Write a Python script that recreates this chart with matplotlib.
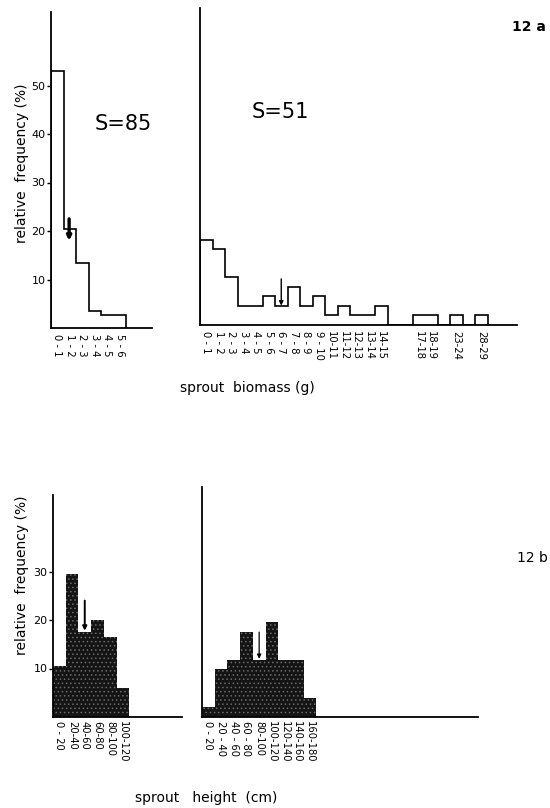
import numpy as np
import matplotlib.pyplot as plt

# sprout biomass, S=85 (left) and S=51 (right), relative frequency in %
bio85_labels = ['0 - 1', '1 - 2', '2 - 3', '3 - 4', '4 - 5', '5 - 6']
bio85_freq = [52.9, 20.5, 13.4, 3.6, 2.6, 2.6]
bio85_mean = 1.45

bio51_labels = ['0 - 1', '1 - 2', '2 - 3', '3 - 4', '4 - 5', '5 - 6', '6 - 7', '7 - 8',
                '8 - 9', '9 - 10', '10-11', '11-12', '12-13', '13-14', '14-15',
                '', '', '17-18', '18-19', '', '23-24', '', '28-29']
bio51_freq = [17.6, 15.7, 9.8, 3.9, 3.9, 5.9, 3.9, 7.8, 3.9, 5.9, 2.0, 3.9, 2.0, 2.0, 3.9,
              0, 0, 2.0, 2.0, 0, 2.0, 0, 2.0]
bio51_mean = 6.5

# sprout height (cm)
h85_labels = ['0 - 20', '20-40', '40-60', '60-80', '80-100', '100-120']
h85_freq = [10.6, 29.4, 17.6, 20.0, 16.5, 5.9]
h85_mean = 50

h51_labels = ['0 - 20', '20 - 40', '40 - 60', '60 - 80', '80-100', '100-120',
              '120-140', '140-160', '160-180']
h51_freq = [2.0, 9.8, 11.8, 17.6, 11.8, 19.6, 11.8, 11.8, 3.9]
h51_mean = 90

W, H = 550, 808
plt.rcParams['font.family'] = 'DejaVu Sans'
plt.rcParams['hatch.color'] = '#6a6a6a'
plt.rcParams['hatch.linewidth'] = 0.6
fig = plt.figure(figsize=(W / 100, H / 100), dpi=100)


def px_axes(x0, x1, ytop, ybase):
    ax = fig.add_axes([x0 / W, 1 - ybase / H, (x1 - x0) / W, (ybase - ytop) / H])
    for s in ['top', 'right']:
        ax.spines[s].set_visible(False)
    ax.spines['left'].set_linewidth(1.3)
    ax.spines['bottom'].set_linewidth(1.3)
    ax.patch.set_alpha(0)
    return ax


def arrow(ax, x, tip, top, lw=1.0, scale=7):
    ax.annotate('', xy=(x, tip), xytext=(x, top),
                arrowprops=dict(arrowstyle='-|>', color='k', lw=lw, mutation_scale=scale,
                                shrinkA=0, shrinkB=0))


ppu = 4.85  # pixels per % unit

# ---- 12a left
ax1 = px_axes(51, 152, 12, 328)
edges = np.arange(len(bio85_freq) + 1)
ax1.stairs(bio85_freq, edges, baseline=0, color='k', lw=1.2)
ax1.set_xlim(0, 101 / 12.5)
ax1.set_ylim(0, 316 / ppu)
ax1.set_yticks([10, 20, 30, 40, 50])
ax1.tick_params(axis='y', direction='out', length=3, width=1, labelsize=8, pad=1)
ax1.set_xticks(edges[:-1] + 0.5, bio85_labels, rotation=-90, fontsize=7.2)
ax1.tick_params(axis='x', length=0, pad=4)
arrow(ax1, bio85_mean, 18.0, 22.5, lw=2.4, scale=6)
ax1.text(3.5, 42, 'S=85', fontsize=15, ha='left', va='center')

# ---- 12a right
ax2 = px_axes(200, 517, 8, 325)
edges2 = np.arange(len(bio51_freq) + 1)
ax2.stairs(bio51_freq, edges2, baseline=0, color='k', lw=1.2)
ax2.set_xlim(0, 317 / 12.5)
ax2.set_ylim(0, 317 / ppu)
ax2.set_yticks([])
ax2.set_xticks(edges2[:-1] + 0.5, bio51_labels, rotation=-90, fontsize=7.2)
ax2.tick_params(axis='x', length=0, pad=4)
arrow(ax2, bio51_mean, 4.0, 9.5, lw=1.0, scale=6)
ax2.text(4.1, 44, 'S=51', fontsize=15, ha='left', va='center')

# ---- 12b left
ax3 = px_axes(53, 182, 495, 717)
e3 = np.arange(len(h85_freq) + 1) * 20
ax3.bar(e3[:-1], h85_freq, width=20, align='edge', color='#141414', hatch='....', lw=0)
ax3.set_xlim(0, 129 / 12.7 * 20)
ax3.set_ylim(0, 222 / ppu)
ax3.set_yticks([10, 20, 30])
ax3.tick_params(axis='y', direction='out', length=3, width=1, labelsize=8, pad=1)
ax3.set_xticks(e3[:-1] + 10, h85_labels, rotation=-90, fontsize=7.2)
ax3.tick_params(axis='x', length=0, pad=3)
arrow(ax3, h85_mean, 17.8, 24, lw=1.4, scale=6)

# ---- 12b right
ax4 = px_axes(202, 478, 487, 717)
e4 = np.arange(len(h51_freq) + 1) * 20
ax4.bar(e4[:-1], h51_freq, width=20, align='edge', color='#141414', hatch='....', lw=0)
ax4.set_xlim(0, 276 / 12.7 * 20)
ax4.set_ylim(0, 230 / ppu)
ax4.set_yticks([])
ax4.set_xticks(e4[:-1] + 10, h51_labels, rotation=-90, fontsize=7.2)
ax4.tick_params(axis='x', length=0, pad=3)
arrow(ax4, h51_mean, 12.0, 17.5, lw=0.9, scale=6)

# ---- labels
fig.text(22 / W, 1 - 163 / H, 'relative  frequency (%)', rotation=90, fontsize=10,
         ha='center', va='center')
fig.text(22 / W, 1 - 575 / H, 'relative  frequency (%)', rotation=90, fontsize=10,
         ha='center', va='center')
fig.text(247 / W, 1 - 388 / H, 'sprout  biomass (g)', fontsize=10, ha='center', va='center')
fig.text(206 / W, 1 - 798 / H, 'sprout   height  (cm)', fontsize=10, ha='center', va='center')
fig.text(529 / W, 1 - 27 / H, '12 a', fontsize=10, fontweight='bold', ha='center', va='center')
fig.text(532 / W, 1 - 558 / H, '12 b', fontsize=10, ha='center', va='center')

fig.savefig('out.png', dpi=100, facecolor='white')
